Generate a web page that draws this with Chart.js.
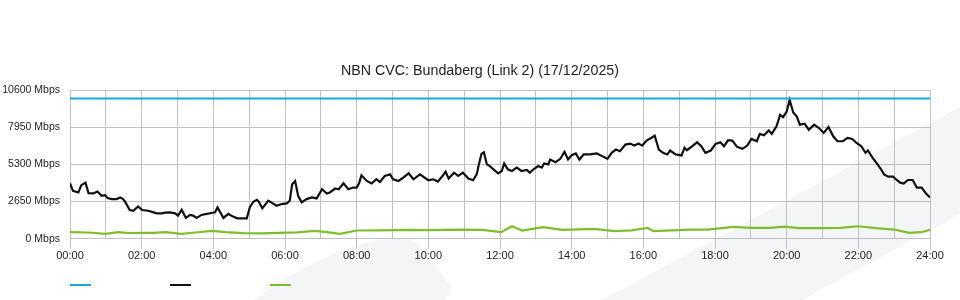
<!DOCTYPE html>
<html>
<head>
<meta charset="utf-8">
<script src="https://cdn.jsdelivr.net/npm/chart.js@4.4.1/dist/chart.umd.min.js"></script>
<style>
  html, body { margin: 0; padding: 0; background: #fff; }
  canvas { display: block; }
</style>
</head>
<body>
<canvas id="cvcChart" width="960" height="300"></canvas>
<script>
// Y axis ticks
const yTicks = [0, 2650, 5300, 7950, 10600];

// Link capacity (blue)
const capTimes = ['00:00', '24:00'];
const capValues = [10000, 10000];

// Traffic (black)
const trafficTimes = ['00:00','00:05','00:14','00:19','00:26','00:31','00:39','00:46','00:53','00:59',
  '01:03','01:10','01:18','01:24','01:29','01:33','01:40','01:46','01:54','02:01',
  '02:11','02:20','02:25','02:34','02:39','02:47','02:56','03:01','03:07','03:14',
  '03:21','03:26','03:32','03:40','03:49','03:57','04:03','04:07','04:17','04:25',
  '04:33','04:40','04:56','05:01','05:07','05:13','05:16','05:22','05:32','05:39',
  '05:46','05:54','06:03','06:08','06:12','06:17','06:22','06:28','06:36','06:45',
  '06:53','07:02','07:10','07:15','07:24','07:30','07:38','07:46','07:54','08:00',
  '08:04','08:08','08:17','08:25','08:33','08:39','08:47','08:56','09:01','09:10',
  '09:18','09:27','09:35','09:46','10:00','10:08','10:16','10:25','10:29','10:34',
  '10:43','10:50','10:58','11:07','11:15','11:21','11:24','11:29','11:33','11:38',
  '11:43','11:49','11:57','12:03','12:07','12:13','12:20','12:28','12:36','12:45',
  '12:50','12:56','13:04','13:10','13:14','13:21','13:24','13:33','13:41','13:48',
  '13:54','14:00','14:07','14:13','14:20','14:31','14:42','14:51','15:00','15:07',
  '15:14','15:21','15:30','15:38','15:45','15:52','15:58','16:06','16:13','16:19',
  '16:26','16:33','16:40','16:45','16:54','17:04','17:09','17:13','17:22','17:30',
  '17:37','17:44','17:53','18:01','18:09','18:15','18:22','18:29','18:37','18:46',
  '18:54','19:01','19:10','19:15','19:22','19:30','19:35','19:43','19:49','19:54',
  '20:00','20:05','20:11','20:17','20:22','20:30','20:37','20:46','20:54','21:02',
  '21:10','21:18','21:25','21:34','21:42','21:50','21:57','22:05','22:12','22:16',
  '22:24','22:31','22:38','22:43','22:50','22:58','23:03','23:10','23:16','23:23',
  '23:31','23:38','23:46','23:53','24:00'];
const trafficValues = [3950,3410,3300,3820,4000,3250,3230,3370,3060,3110,
  2900,2830,2830,2945,2830,2590,2050,2000,2310,2050,
  2000,1885,1815,1815,1860,1885,1815,1650,2070,1485,
  1700,1650,1485,1700,1770,1840,1885,2240,1485,1770,
  1580,1460,1460,2240,2640,2780,2640,2170,2710,2540,
  2355,2475,2520,2710,3890,4120,3060,2590,2830,2945,
  2875,3530,3230,3300,3580,3530,3960,3530,3650,3650,
  3960,4520,4120,3940,4240,4050,4475,4590,4240,4120,
  4360,4660,4240,4590,4170,4240,4075,4545,4780,4290,
  4710,4475,4710,4290,4170,4590,5180,6055,6170,5300,
  5180,4950,4660,4830,5370,4950,4830,5065,4830,4900,
  4710,4950,5180,5065,5370,5300,5650,5460,5700,6200,
  5650,5960,6080,5650,6010,6010,6080,5890,5700,6125,
  6360,6240,6710,6785,6640,6785,6640,7020,7185,7350,
  6360,6125,6010,6290,6010,5940,6480,6310,6595,6875,
  6595,6125,6290,6760,6875,6595,7020,7000,6550,6410,
  6640,7115,6950,7470,7375,7725,7470,8010,8830,8670,
  9070,9890,9000,8710,8130,8200,7770,8130,7890,7540,
  7960,7300,6950,6950,7185,7115,6830,6595,6125,6290,
  5770,5370,4950,4590,4430,4430,4240,4000,3940,4190,
  4190,3650,3650,3250,2945];

// Green series
const greenTimes = ['00:00','00:30','01:00','01:20','01:40','02:00','02:20','02:40','03:06','03:30',
  '03:58','04:20','04:50','05:20','05:50','06:20','06:50','07:10','07:32','08:00',
  '08:40','09:26','10:00','10:53','11:30','12:02','12:20','12:37','13:12','13:45',
  '14:37','15:12','15:40','16:07','16:17','16:47','17:20','17:48','18:31','19:00',
  '19:32','19:57','20:20','20:57','21:30','21:59','22:30','23:00','23:25','23:45','24:00'];
const greenValues = [470,450,350,470,400,430,420,480,353,450,
  560,470,400,380,424,460,565,470,353,590,
  600,636,620,660,640,470,895,590,825,636,
  707,542,600,777,542,600,650,660,848,780,
  777,870,760,754,780,895,760,660,424,470,636];

const toHours = t => { const p = t.split(':'); return +p[0] + p[1] / 60; };
const pts = (times, values) => times.map((t, i) => ({ x: toHours(t), y: values[i] }));

const gridColor = '#bfbfbf';
const fontFamily = "'Liberation Sans', Arial, sans-serif";

// faint background shapes behind the chart
const watermark = {
  id: 'watermark',
  beforeDraw(chart) {
    const c = chart.ctx;
    c.save();
    c.fillStyle = '#f4f5f7';
    c.beginPath();
    c.moveTo(602, 300);
    c.lineTo(960, 107);
    c.lineTo(960, 214);
    c.lineTo(802, 300);
    c.closePath();
    c.fill();
    c.beginPath();
    c.moveTo(253, 300);
    c.quadraticCurveTo(330, 245, 393, 238);
    c.quadraticCurveTo(412, 236, 422, 248);
    c.lineTo(452, 288);
    c.lineTo(445, 300);
    c.closePath();
    c.fill();
    c.restore();
  }
};

// short coloured lines under the chart, no text
const lineLegend = {
  id: 'lineLegend',
  afterDraw(chart) {
    const c = chart.ctx;
    const left = chart.chartArea.left;
    c.save();
    c.lineWidth = 2;
    chart.data.datasets.forEach((ds, i) => {
      c.strokeStyle = ds.borderColor;
      c.beginPath();
      c.moveTo(left + i * 100, 285);
      c.lineTo(left + i * 100 + 21, 285);
      c.stroke();
    });
    c.restore();
  }
};

new Chart(document.getElementById('cvcChart').getContext('2d'), {
  type: 'line',
  data: {
    datasets: [
      {
        label: 'Capacity',
        data: pts(capTimes, capValues),
        borderColor: '#1aa7de',
        borderWidth: 2,
        pointRadius: 0
      },
      {
        label: 'Traffic',
        data: pts(trafficTimes, trafficValues),
        borderColor: '#111111',
        borderWidth: 2.2,
        pointRadius: 0
      },
      {
        label: 'Other',
        data: pts(greenTimes, greenValues),
        borderColor: '#7dbe2c',
        borderWidth: 2.2,
        pointRadius: 0
      }
    ]
  },
  options: {
    responsive: false,
    animation: false,
    devicePixelRatio: 1,
    layout: { padding: { left: 0, right: 0, bottom: 36 } },
    scales: {
      x: {
        type: 'linear',
        min: 0,
        max: 24,
        ticks: {
          stepSize: 1,
          autoSkip: false,
          maxRotation: 0,
          padding: 1,
          color: '#222',
          font: { family: fontFamily, size: 11 },
          callback: v => v % 2 === 0 ? String(v).padStart(2, '0') + ':00' : ''
        },
        grid: {
          color: gridColor,
          tickLength: 10,
          tickColor: ctx => (ctx.tick && ctx.tick.value % 2 === 0) ? gridColor : 'rgba(0,0,0,0)'
        },
        border: { color: gridColor }
      },
      y: {
        min: 0,
        max: 10600,
        afterBuildTicks: scale => { scale.ticks = yTicks.map(v => ({ value: v })); },
        afterFit: scale => { scale.width = 70; },
        ticks: {
          padding: 10,
          color: '#222',
          font: { family: fontFamily, size: 10.5 },
          callback: v => v + ' Mbps'
        },
        grid: { color: gridColor, drawTicks: false },
        border: { color: gridColor }
      },
      // empty right-hand margin so the title centres on the full width
      yRight: {
        position: 'right',
        min: 0,
        max: 10600,
        afterFit: scale => { scale.width = 30; },
        ticks: { display: false },
        grid: { display: false },
        border: { display: false }
      }
    },
    plugins: {
      legend: { display: false },
      tooltip: { enabled: false },
      title: {
        display: true,
        text: 'NBN CVC: Bundaberg (Link 2) (17/12/2025)',
        color: '#222',
        font: { family: fontFamily, size: 14.25, weight: 'normal' },
        padding: { top: 62.5, bottom: 10.4 }
      }
    }
  },
  plugins: [watermark, lineLegend]
});
</script>
</body>
</html>
